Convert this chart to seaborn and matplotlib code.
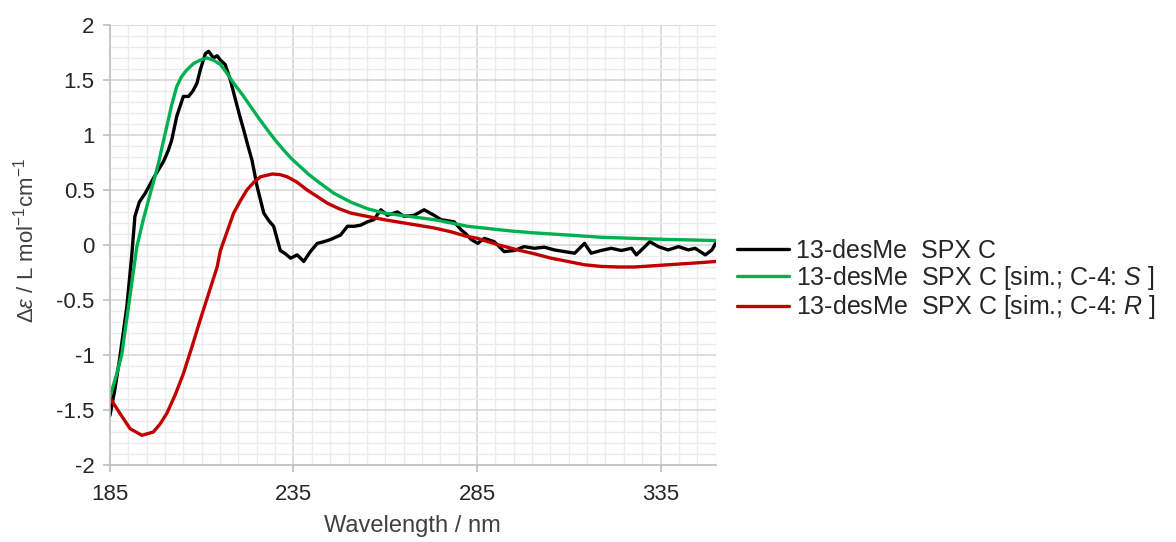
import numpy as np
import pandas as pd
import matplotlib
matplotlib.use("Agg")
import matplotlib.pyplot as plt
from matplotlib.ticker import MultipleLocator, FixedLocator
import seaborn as sns

# ---- data ----
exp_x = [185.0, 186.4, 187.7, 189.6, 190.9, 191.8, 193.0, 194.6, 196.9, 199.6, 200.9, 201.8,
         203.2, 205.0, 206.4, 207.6, 208.7, 209.6, 211.0, 211.9, 213.2, 214.2, 215.1, 216.4, 217.8,
         219.2, 220.3, 221.4, 222.6, 223.7, 225.1, 226.9, 228.3, 229.6, 231.4, 232.8, 234.2, 236.0,
         237.8, 239.6, 241.5, 243.3, 245.1, 247.8, 249.7, 251.5, 253.3, 255.1, 256.9, 258.8, 260.6,
         263.3, 265.1, 267.9, 270.6, 273.3, 275.2, 278.8, 280.6, 282.0, 283.4, 285.2, 287.0, 289.7,
         292.4, 295.2, 297.8, 300.6, 303.3, 306.1, 308.8, 311.6, 314.3, 316.1, 318.8, 321.6, 324.3,
         327.1, 328.4, 329.8, 332.1, 334.4, 337.1, 339.9, 342.6, 344.4, 347.2, 349.0, 350.0]
exp_y = [-1.55, -1.30, -1.02, -0.56, -0.11, 0.26, 0.39, 0.47, 0.61, 0.76, 0.86, 0.95,
         1.17, 1.35, 1.35, 1.40, 1.47, 1.59, 1.74, 1.76, 1.70, 1.72, 1.68, 1.64, 1.50,
         1.32, 1.18, 1.05, 0.90, 0.77, 0.53, 0.29, 0.22, 0.17, -0.05, -0.08, -0.12, -0.09,
         -0.15, -0.06, 0.015, 0.03, 0.05, 0.09, 0.17, 0.17, 0.18, 0.21, 0.23, 0.32, 0.27,
         0.30, 0.26, 0.27, 0.32, 0.27, 0.23, 0.21, 0.14, 0.10, 0.05, 0.015, 0.06, 0.03,
         -0.06, -0.05, -0.015, -0.03, -0.02, -0.045, -0.06, -0.075, 0.015, -0.075, -0.05, -0.03, -0.05,
         -0.03, -0.09, -0.045, 0.03, -0.015, -0.045, -0.015, -0.045, -0.03, -0.09, -0.045, 0.015]

simS_x = [185.0, 186.6, 188.2, 190.3, 192.3, 194.0, 195.6, 197.0, 198.2, 199.4, 200.5, 201.8, 203.2,
          204.5, 205.9, 207.8, 209.6, 211.4, 213.2, 215.1, 216.9, 218.7, 221.0, 223.3, 225.6, 227.8,
          230.1, 232.4, 234.6, 236.9, 239.2, 241.5, 246.0, 250.6, 255.1, 259.7, 264.2, 268.8, 273.3,
          278.0, 282.4, 285.2, 290.6, 295.0, 300.6, 310.0, 318.9, 328.0, 337.1, 344.0, 350.0]
simS_y = [-1.38, -1.20, -1.00, -0.50, -0.02, 0.22, 0.42, 0.59, 0.74, 0.92, 1.08, 1.27, 1.44,
          1.53, 1.59, 1.65, 1.68, 1.70, 1.68, 1.64, 1.56, 1.47, 1.37, 1.26, 1.15, 1.05,
          0.95, 0.86, 0.78, 0.71, 0.64, 0.58, 0.47, 0.39, 0.33, 0.29, 0.27, 0.25, 0.23,
          0.20, 0.17, 0.16, 0.14, 0.125, 0.11, 0.09, 0.07, 0.06, 0.05, 0.045, 0.04]

simR_x = [185.0, 187.7, 190.5, 193.7, 196.8, 198.6, 200.5, 202.8, 205.0, 207.3, 209.6, 211.9, 214.2,
          215.1, 216.9, 218.7, 220.5, 222.3, 224.2, 226.0, 229.2, 231.3, 233.3, 236.0, 238.7, 241.5,
          244.2, 247.4, 250.6, 255.1, 259.7, 264.2, 268.8, 273.3, 277.9, 282.0, 285.2, 287.0, 291.0,
          296.1, 300.6, 305.2, 309.8, 314.3, 318.9, 323.4, 328.0, 332.5, 337.0, 341.6, 346.0, 350.0]
simR_y = [-1.39, -1.53, -1.67, -1.73, -1.70, -1.63, -1.53, -1.36, -1.17, -0.93, -0.68, -0.44, -0.20,
          -0.05, 0.12, 0.29, 0.40, 0.50, 0.57, 0.62, 0.645, 0.64, 0.62, 0.57, 0.50, 0.44,
          0.38, 0.33, 0.29, 0.26, 0.23, 0.205, 0.18, 0.155, 0.12, 0.08, 0.06, 0.04, 0.00,
          -0.045, -0.08, -0.12, -0.15, -0.18, -0.195, -0.20, -0.20, -0.19, -0.18, -0.17, -0.16, -0.15]

labels = ["13-desMe  SPX C",
          "13-desMe  SPX C [sim.; C-4: $\\mathit{S}$ ]",
          "13-desMe  SPX C [sim.; C-4: $\\mathit{R}$ ]"]
colors = ["#000000", "#00B050", "#C00000"]

x_ticks = [185, 235, 285, 335]
y_ticks = [-2, -1.5, -1, -0.5, 0, 0.5, 1, 1.5, 2]
y_tick_labels = ["-2", "-1.5", "-1", "-0.5", "0", "0.5", "1", "1.5", "2"]

# ---- style ----
sns.set_theme(style="white")
plt.rcParams['font.family'] = ['Liberation Sans', 'DejaVu Sans']
plt.rcParams['mathtext.fontset'] = 'custom'
plt.rcParams['mathtext.rm'] = 'Liberation Sans'
plt.rcParams['mathtext.it'] = 'Liberation Sans:italic'
plt.rcParams['mathtext.bf'] = 'Liberation Sans:bold'

fig = plt.figure(figsize=(11.76, 5.42), dpi=100)
ax = fig.add_axes([0.0935, 0.142, 0.515, 0.812])

for xs, ys, c, lab in zip([exp_x, simS_x, simR_x], [exp_y, simS_y, simR_y], colors, labels):
    df = pd.DataFrame({"x": xs, "y": ys})
    sns.lineplot(data=df, x="x", y="y", color=c, lw=2.4, label=lab, ax=ax, sort=False)

ax.set_xlim(185, 350)
ax.set_ylim(-2, 2)
ax.xaxis.set_major_locator(FixedLocator(x_ticks))
ax.xaxis.set_minor_locator(MultipleLocator(5))
ax.yaxis.set_major_locator(FixedLocator(y_ticks))
ax.set_yticklabels(y_tick_labels)
ax.yaxis.set_minor_locator(MultipleLocator(0.1))

ax.grid(True, which='major', color='#d4d4d4', lw=1.1)
ax.grid(True, which='minor', color='#ebebeb', lw=1.0)
ax.set_axisbelow(True)
for s in ['top', 'right']:
    ax.spines[s].set_visible(False)
for s in ['left', 'bottom']:
    ax.spines[s].set_color('#bfbfbf')
    ax.spines[s].set_linewidth(1.2)
ax.tick_params(axis='both', which='major', labelsize=16, colors='#bfbfbf', labelcolor='#262626',
               length=5, width=1.2, direction='out', bottom=True, left=True)
ax.tick_params(axis='both', which='minor', length=0)
ax.tick_params(axis='x', pad=9)
ax.tick_params(axis='y', pad=6)

ax.set_xlabel("Wavelength / nm", fontsize=17, color='#404040', labelpad=7)
ax.set_ylabel("$\\mathit{\\Delta\\varepsilon}$ / L mol$^{-1}$cm$^{-1}$", fontsize=16, color='#404040')
ax.yaxis.set_label_coords(-0.118, 0.51)

leg = ax.legend(loc='center left', bbox_to_anchor=(737 / 1176, 1 - 280 / 542),
                bbox_transform=fig.transFigure, frameon=False, fontsize=18,
                borderpad=0, borderaxespad=0,
                handlelength=2.1, handletextpad=0.28, labelspacing=0.05)

fig.savefig("out.png", dpi=100)
